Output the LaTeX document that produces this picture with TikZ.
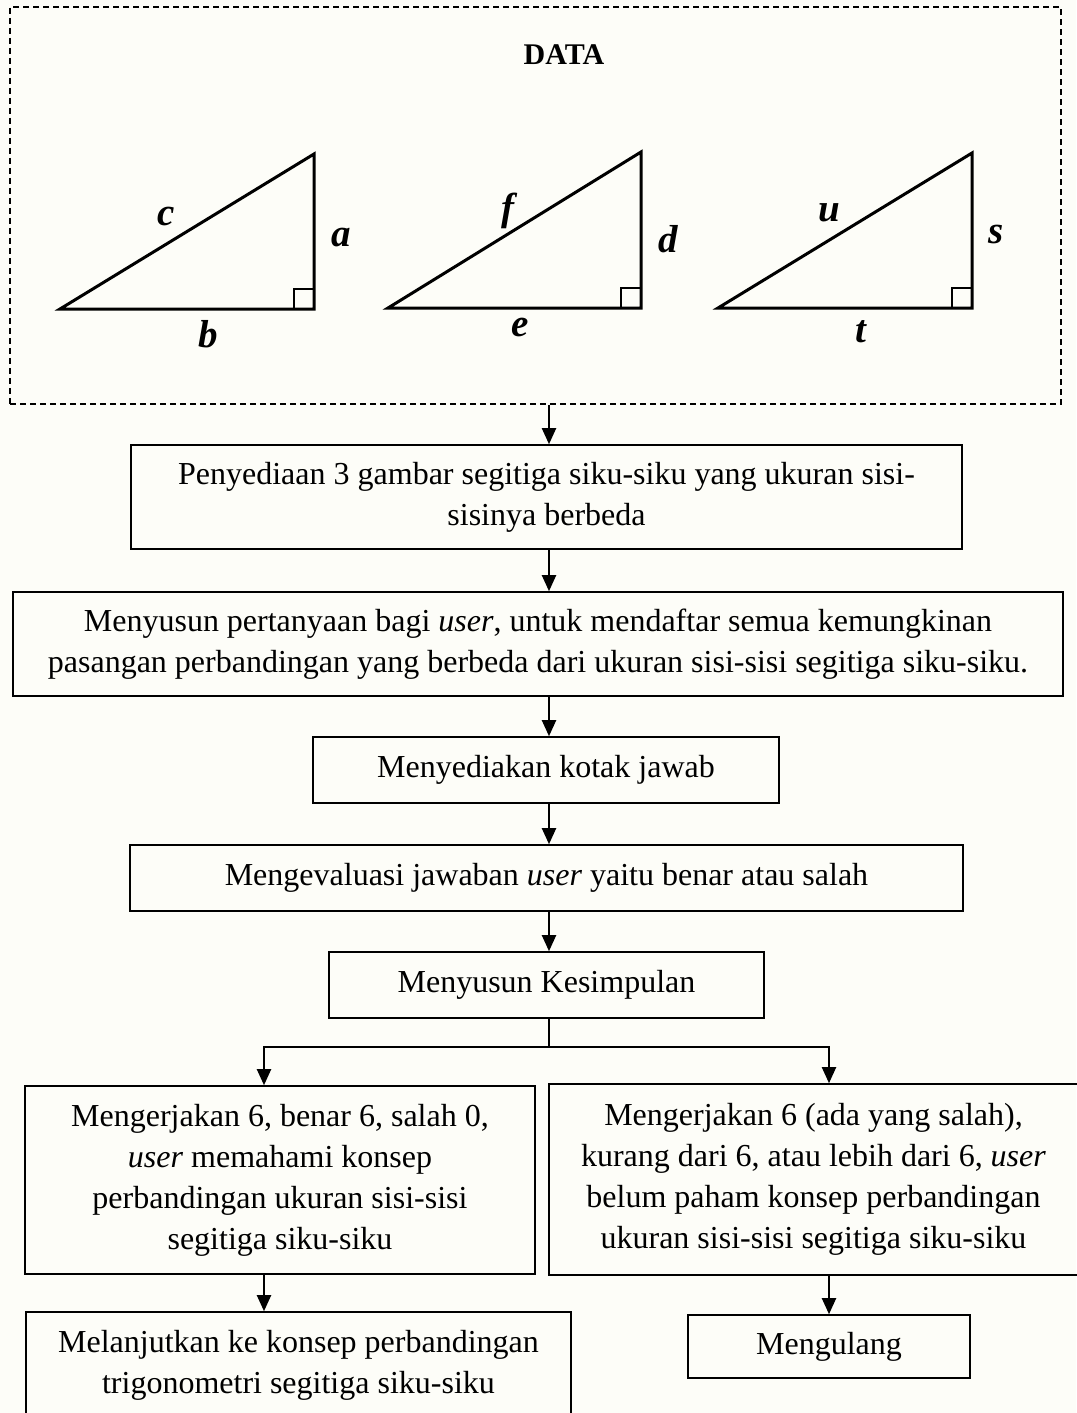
\documentclass[tikz,border=0pt]{standalone}
\usepackage{fontspec}
\setmainfont{Liberation Serif}
\usetikzlibrary{arrows.meta}
\definecolor{paper}{RGB}{253,253,248}
\begin{document}
\begin{tikzpicture}[x=1pt,y=-1pt,
  box/.style={draw, line width=1.6pt, align=center, inner sep=0pt,
    font=\fontsize{32}{41}\selectfont},
  arr/.style={line width=2pt, -{Triangle[length=16pt,width=14pt]}},
  side/.style={font=\fontsize{39}{42}\selectfont\bfseries\itshape, inner sep=0pt},
  leg/.style={line width=3pt},
  corner/.style={line width=2.2pt}]
\useasboundingbox (0,0) rectangle (1076,1413);
\fill[paper] (0,0) rectangle (1076,1413);

% data frame with the three right triangles
\node[draw, dash pattern=on 6pt off 4pt, line width=1.3pt,
  minimum width=1051pt, minimum height=397pt, inner sep=0pt] (data) at (535.5,205.5) {};
\node[font=\fontsize{30}{36}\selectfont\bfseries, anchor=base] (title) at (564,65) {DATA};

\draw[leg] (60,309) -- (314,309) -- (314,154) -- cycle;
\draw[corner] (294,309) -- (294,289) -- (314,289);
\node[side] (lc) at (166,217) {c};
\node[side] (la) at (341,238) {a};
\node[side] (lb) at (208,334) {b};

\draw[leg] (388,308) -- (641,308) -- (641,152) -- cycle;
\draw[corner] (621,308) -- (621,288) -- (641,288);
\node[side] (lf) at (508,211) {f};
\node[side] (ld) at (668,239) {d};
\node[side] (le) at (520,327) {e};

\draw[leg] (718,308) -- (972,308) -- (972,153) -- cycle;
\draw[corner] (952,308) -- (952,288) -- (972,288);
\node[side] (lu) at (829,213) {u};
\node[side] (ls) at (996,235) {s};
\node[side] (lt) at (861,332) {t};

% flow boxes
\node[box, minimum width=831pt, minimum height=104pt] (b1) at (546.5,497)
  {Penyediaan 3 gambar segitiga siku-siku yang ukuran sisi-\\sisinya berbeda};
\node[box, minimum width=1050pt, minimum height=104pt] (b2) at (538,644)
  {Menyusun pertanyaan bagi \textit{user}, untuk mendaftar semua kemungkinan\\
   pasangan perbandingan yang berbeda dari ukuran sisi-sisi segitiga siku-siku.};
\node[box, minimum width=466pt, minimum height=66pt] (b3) at (546,770)
  {Menyediakan kotak jawab};
\node[box, minimum width=833pt, minimum height=66pt] (b4) at (546.5,878)
  {Mengevaluasi jawaban \textit{user} yaitu benar atau salah};
\node[box, minimum width=435pt, minimum height=66pt] (b5) at (546.5,985)
  {Menyusun Kesimpulan};
\node[box, minimum width=510pt, minimum height=188pt] (b6) at (280,1180)
  {Mengerjakan 6, benar 6, salah 0,\\ \textit{user} memahami konsep\\
   perbandingan ukuran sisi-sisi\\ segitiga siku-siku};
\node[box, minimum width=529pt, minimum height=191pt] (b7) at (813.5,1179.5)
  {Mengerjakan 6 (ada yang salah),\\ kurang dari 6, atau lebih dari 6, \textit{user}\\
   belum paham konsep perbandingan\\ ukuran sisi-sisi segitiga siku-siku};
\node[box, minimum width=545pt, minimum height=106pt] (b8) at (298.5,1365)
  {Melanjutkan ke konsep perbandingan\\ trigonometri segitiga siku-siku};
\node[box, minimum width=282pt, minimum height=63pt] (b9) at (829,1346.5)
  {Mengulang};

% connectors
\coordinate (axis) at (549,0);
\coordinate (jm) at (549,1047);
\coordinate (jl) at (264,1047);
\coordinate (jr) at (829,1047);
\draw[arr] (data.south -| axis) -- (b1.north -| axis);
\draw[arr] (b1.south -| axis) -- (b2.north -| axis);
\draw[arr] (b2.south -| axis) -- (b3.north -| axis);
\draw[arr] (b3.south -| axis) -- (b4.north -| axis);
\draw[arr] (b4.south -| axis) -- (b5.north -| axis);
\draw[line width=1.2pt] (b5.south -| axis) -- (jm);
\draw[line width=2.6pt, line cap=rect] (jl) -- (jr);
\draw[arr] (jl) -- (b6.north -| jl);
\draw[arr] (jr) -- (b7.north -| jr);
\draw[arr] (b6.south -| jl) -- (b8.north -| jl);
\draw[arr] (b7.south -| jr) -- (b9.north);
\end{tikzpicture}
\end{document}
